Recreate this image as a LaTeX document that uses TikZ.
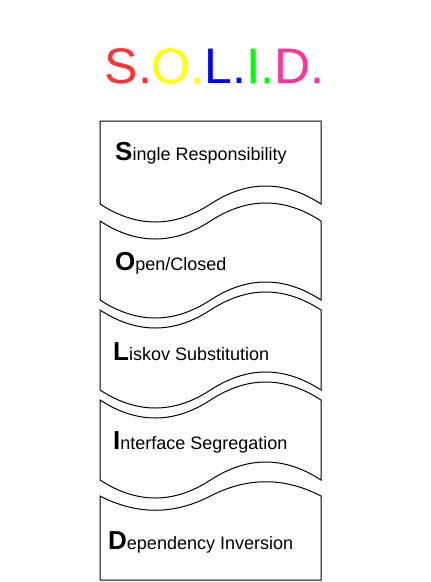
\documentclass[tikz,border=0pt]{standalone}
\usepackage{fontspec}
\setmainfont{Liberation Sans}
\usepackage{tikz}

\definecolor{solidS}{HTML}{FF3333}
\definecolor{solidO}{HTML}{FFFF00}
\definecolor{solidL}{HTML}{0000FF}
\definecolor{solidI}{HTML}{00FF00}
\definecolor{solidD}{HTML}{FF3399}

\newcommand{\initial}[1]{{\fontsize{26}{26}\selectfont\bfseries #1}}

\begin{document}
\begin{tikzpicture}[x=1pt, y=-1pt,
  sheet/.style={draw=black, line width=1pt, fill=white},
  principle/.style={anchor=west, inner sep=0pt, font=\fontsize{18}{21}\selectfont}]
\useasboundingbox (0,0) rectangle (431,582);

\node (title) at (214.5,66) {\fontsize{50}{50}\selectfont
  \textcolor{solidS}{S.}\textcolor{solidO}{O.}\textcolor{solidL}{L.}\textcolor{solidI}{I.}\textcolor{solidD}{D.}};

% document shape on top
\draw [sheet] (100,121) -- (321,121) -- (321,204)
  .. controls (284.17,180) and (247.33,180) .. (210.5,204)
  .. controls (173.67,228) and (136.83,228) .. (100,204) -- cycle;

% tapes
\draw [sheet] (100,221) .. controls (136.83,245) and (173.67,245) .. (210.5,221)
  .. controls (247.33,197) and (284.17,197) .. (321,221) -- (321,300)
  .. controls (284.17,276) and (247.33,276) .. (210.5,300)
  .. controls (173.67,324) and (136.83,324) .. (100,300) -- cycle;
\draw [sheet] (100,310) .. controls (136.83,334) and (173.67,334) .. (210.5,310)
  .. controls (247.33,286) and (284.17,286) .. (321,310) -- (321,390)
  .. controls (284.17,366) and (247.33,366) .. (210.5,390)
  .. controls (173.67,414) and (136.83,414) .. (100,390) -- cycle;
\draw [sheet] (100,400) .. controls (136.83,424) and (173.67,424) .. (210.5,400)
  .. controls (247.33,376) and (284.17,376) .. (321,400) -- (321,480)
  .. controls (284.17,456) and (247.33,456) .. (210.5,480)
  .. controls (173.67,504) and (136.83,504) .. (100,480) -- cycle;

% document shape at the bottom
\draw [sheet] (100,496) .. controls (136.83,515) and (173.67,515) .. (210.5,496)
  .. controls (247.33,477) and (284.17,477) .. (321,496) -- (321,580) -- (100,580) -- cycle;

\node [principle] (srp) at (115,153) {\initial{S}ingle Responsibility};
\node [principle] (ocp) at (115,263) {\initial{O}pen/Closed};
\node [principle] (lsp) at (113,352) {\initial{L}iskov Substitution};
\node [principle] (isp) at (113,442) {\initial{I}nterface Segregation};
\node [principle] (dip) at (108,542) {\initial{D}ependency Inversion};
\end{tikzpicture}
\end{document}
